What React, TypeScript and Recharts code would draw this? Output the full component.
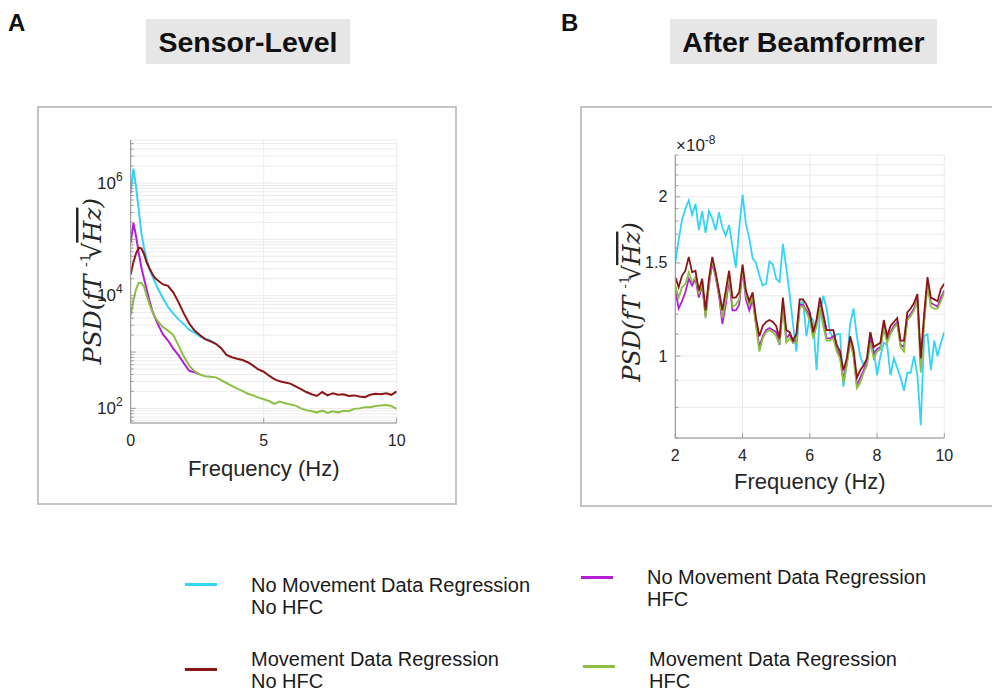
import React from 'react';
import { LineChart, Line, XAxis, YAxis, CartesianGrid } from 'recharts';

// ---------- Panel A (sensor level) ----------
const freqA = [0, 0.1, 0.2, 0.3, 0.4, 0.5, 0.6, 0.7, 0.8, 0.9, 1.0, 1.2, 1.4, 1.6, 1.8, 2.0, 2.2, 2.4, 2.6, 2.8, 3.0, 3.2, 3.4, 3.6, 3.8, 4.0, 4.2, 4.4, 4.6, 4.8, 5.0, 5.2, 5.4, 5.6, 5.8, 6.0, 6.2, 6.4, 6.6, 6.8, 7.0, 7.2, 7.4, 7.6, 7.8, 8.0, 8.2, 8.4, 8.6, 8.8, 9.0, 9.2, 9.4, 9.6, 9.8, 10.0];
const noRegNoHfcA: (number | null)[] = [6.6e5, 1.8e6, 8.7e5, 3.4e5, 1.3e5, 7.1e4, 4.5e4, 3.0e4, 2.3e4, 1.8e4, 1.4e4, 9.3e3, 6.3e3, 4.8e3, 3.8e3, 3.1e3, 2.5e3, 2.2e3, 1.9e3, 1.7e3, 1.6e3, 1.4e3];
const noRegHfcA: (number | null)[] = [8.7e4, 1.95e5, 1.15e5, 5.8e4, 3.2e4, 2.0e4, 1.3e4, 8.3e3, 5.6e3, 4.2e3, 3.3e3, 2.1e3, 1.6e3, 1.15e3, 870, 630, 465, 438, 400];
const regNoHfcA = [2.4e4, 3.9e4, 5.6e4, 7.1e4, 6.9e4, 5.5e4, 3.9e4, 3.1e4, 2.5e4, 2.1e4, 1.9e4, 1.6e4, 1.5e4, 1.15e4, 7.6e3, 4.8e3, 3.2e3, 2.4e3, 2.0e3, 1.7e3, 1.55e3, 1.4e3, 1.17e3, 890, 810, 760, 720, 660, 575, 490, 447, 380, 331, 302, 288, 275, 245, 219, 195, 178, 166, 195, 170, 186, 174, 178, 166, 170, 162, 158, 174, 182, 178, 186, 174, 200];
const regHfcA = [4.5e3, 8.1e3, 1.3e4, 1.7e4, 1.7e4, 1.45e4, 1.0e4, 7.2e3, 5.4e3, 4.3e3, 3.6e3, 2.8e3, 2.4e3, 2.0e3, 1.3e3, 830, 575, 457, 398, 372, 363, 355, 316, 282, 251, 224, 204, 182, 170, 155, 145, 135, 120, 132, 123, 117, 112, 100, 93, 89, 85, 91, 83, 89, 85, 91, 89, 98, 100, 105, 105, 110, 112, 115, 110, 98];
const yTicksA = [60, 70, 80, 90, 100, 200, 300, 400, 500, 600, 700, 800, 900, 1e3, 2e3, 3e3, 4e3, 5e3, 6e3, 7e3, 8e3, 9e3, 1e4, 2e4, 3e4, 4e4, 5e4, 6e4, 7e4, 8e4, 9e4, 1e5, 2e5, 3e5, 4e5, 5e5, 6e5, 7e5, 8e5, 9e5, 1e6, 2e6, 3e6, 4e6, 5e6];
const yLabelsA = [1e2, 1e4, 1e6];
const xTicksA = [0, 5, 10];

// ---------- Panel B (after beamformer), values in units of 1e-8 ----------
const freqB = [2.0, 2.1, 2.2, 2.3, 2.4, 2.5, 2.6, 2.7, 2.8, 2.9, 3.0, 3.1, 3.2, 3.3, 3.4, 3.5, 3.6, 3.7, 3.8, 3.9, 4.0, 4.1, 4.2, 4.3, 4.4, 4.5, 4.6, 4.7, 4.8, 4.9, 5.0, 5.1, 5.2, 5.3, 5.4, 5.5, 5.6, 5.7, 5.8, 5.9, 6.0, 6.1, 6.2, 6.3, 6.4, 6.5, 6.6, 6.7, 6.8, 6.9, 7.0, 7.1, 7.2, 7.3, 7.4, 7.5, 7.6, 7.7, 7.8, 7.9, 8.0, 8.1, 8.2, 8.3, 8.4, 8.5, 8.6, 8.7, 8.8, 8.9, 9.0, 9.1, 9.2, 9.3, 9.4, 9.5, 9.6, 9.7, 9.8, 9.9, 10.0];
const noRegNoHfcB = [1.50, 1.66, 1.81, 1.90, 1.97, 1.85, 1.94, 1.73, 1.88, 1.71, 1.88, 1.82, 1.73, 1.87, 1.75, 1.69, 1.77, 1.61, 1.47, 1.74, 2.02, 1.78, 1.67, 1.53, 1.50, 1.42, 1.36, 1.37, 1.51, 1.49, 1.40, 1.38, 1.63, 1.47, 1.31, 1.15, 1.02, 1.25, 1.27, 1.09, 1.19, 1.17, 0.94, 1.20, 1.30, 1.23, 1.11, 1.08, 1.10, 1.10, 0.875, 0.97, 1.15, 1.23, 1.09, 1.00, 0.96, 0.98, 1.11, 1.03, 0.92, 1.00, 1.06, 1.05, 0.92, 0.99, 0.95, 0.91, 0.86, 0.93, 0.93, 1.00, 0.92, 0.74, 1.09, 1.10, 0.94, 1.07, 1.00, 1.06, 1.11];
const noRegHfcB = [1.33, 1.23, 1.27, 1.32, 1.40, 1.36, 1.40, 1.29, 1.36, 1.19, 1.36, 1.50, 1.41, 1.30, 1.15, 1.25, 1.40, 1.22, 1.22, 1.25, 1.46, 1.28, 1.22, 1.28, 1.15, 1.04, 1.09, 1.12, 1.13, 1.12, 1.11, 1.05, 1.26, 1.08, 1.10, 1.06, 1.07, 1.25, 1.25, 1.22, 1.19, 1.09, 1.15, 1.25, 1.16, 1.08, 1.08, 1.09, 1.03, 1.00, 0.90, 0.97, 1.07, 1.01, 0.88, 0.91, 0.94, 0.97, 1.08, 1.01, 1.03, 1.04, 1.14, 1.07, 1.11, 1.14, 1.16, 1.05, 1.04, 1.18, 1.20, 1.23, 1.28, 0.96, 1.17, 1.38, 1.26, 1.25, 1.24, 1.29, 1.33];
const regNoHfcB = [1.41, 1.35, 1.42, 1.45, 1.54, 1.44, 1.45, 1.33, 1.40, 1.22, 1.40, 1.54, 1.44, 1.33, 1.22, 1.33, 1.45, 1.29, 1.29, 1.32, 1.49, 1.33, 1.27, 1.32, 1.18, 1.09, 1.14, 1.16, 1.17, 1.16, 1.14, 1.08, 1.29, 1.12, 1.11, 1.07, 1.10, 1.28, 1.28, 1.25, 1.21, 1.11, 1.17, 1.29, 1.20, 1.12, 1.12, 1.12, 1.05, 1.02, 0.94, 0.99, 1.09, 1.03, 0.91, 0.94, 0.96, 0.99, 1.11, 1.04, 1.05, 1.06, 1.17, 1.09, 1.14, 1.16, 1.18, 1.07, 1.07, 1.21, 1.23, 1.26, 1.31, 0.99, 1.20, 1.41, 1.29, 1.28, 1.27, 1.34, 1.37];
const regHfcB = [1.36, 1.29, 1.35, 1.37, 1.44, 1.38, 1.41, 1.31, 1.38, 1.18, 1.37, 1.52, 1.42, 1.31, 1.18, 1.28, 1.42, 1.24, 1.25, 1.28, 1.47, 1.30, 1.25, 1.29, 1.14, 1.02, 1.08, 1.11, 1.12, 1.11, 1.09, 1.05, 1.24, 1.06, 1.08, 1.06, 1.06, 1.24, 1.24, 1.21, 1.17, 1.08, 1.14, 1.24, 1.14, 1.07, 1.07, 1.08, 1.02, 0.99, 0.89, 0.96, 1.06, 1.00, 0.87, 0.89, 0.93, 0.96, 1.06, 0.99, 1.02, 1.03, 1.13, 1.06, 1.10, 1.13, 1.15, 1.04, 1.02, 1.17, 1.19, 1.22, 1.27, 0.93, 1.15, 1.36, 1.24, 1.23, 1.23, 1.27, 1.32];
const yTicksB = [0.7, 0.8, 0.9, 1.0, 1.1, 1.2, 1.3, 1.4, 1.5, 1.6, 1.7, 1.8, 1.9, 2.0, 2.1, 2.2, 2.3, 2.4];
const yLabelsB = [1, 1.5, 2];
const xTicksB = [2, 4, 6, 8, 10];

const seriesNames = [
  ['No Movement Data Regression', 'No HFC'],
  ['No Movement Data Regression', 'HFC'],
  ['Movement Data Regression', 'No HFC'],
  ['Movement Data Regression', 'HFC'],
];
const COLORS = ['#35d3f5', '#b41fd4', '#8c1515', '#8cbf44'];

const dataA = freqA.map((f, i) => ({
  f,
  c: noRegNoHfcA[i] ?? null,
  p: noRegHfcA[i] ?? null,
  r: regNoHfcA[i],
  g: regHfcA[i],
}));
const dataB = freqB.map((f, i) => ({
  f,
  c: noRegNoHfcB[i],
  p: noRegHfcB[i],
  r: regNoHfcB[i],
  g: regHfcB[i],
}));

const SANS = '"Liberation Sans", Arial, Helvetica, sans-serif';
const SERIF = '"DejaVu Serif", "Liberation Serif", serif';
const TXT = '#262626';
const AXIS = '#8e8e8e';
const GRID = '#e6e6e6';

// plot rectangles within each chart svg
const A_W = 420, A_H = 470, A_L = 130.7, A_R = 396.7, A_T = 140, A_B = 423;
const B_X = 560, B_W = 432, B_H = 520, B_L = 115.3, B_R = 384.3, B_T = 155, B_B = 438;
const YW = 50, XH = 30;

function renderYTick(left: number, labels: number[], isMajor: (v: number) => boolean, fmt: (v: number) => React.ReactNode, fs: number) {
  return (props: any) => {
    const { y, payload, index } = props;
    const v = payload.value as number;
    const show = labels.some((l) => Math.abs(l - v) < 1e-9 * Math.max(1, l));
    return (
      <g key={`yt-${index}`}>
        <line x1={left} x2={left + (isMajor(v) ? 5 : 3)} y1={y} y2={y} stroke={AXIS} strokeWidth={0.8} />
        {show && (
          <text x={left - 8} y={y + 5.5} textAnchor="end" fontSize={fs} fontFamily={SANS} fill={TXT}>
            {fmt(v)}
          </text>
        )}
      </g>
    );
  };
}

const yTickA = renderYTick(
  A_L,
  yLabelsA,
  (v) => Math.abs(Math.log10(v) - Math.round(Math.log10(v))) < 1e-6,
  (v) => (
    <>
      10<tspan dy={-8} fontSize={12}>{Math.round(Math.log10(v))}</tspan>
    </>
  ),
  17
);
const yTickB = renderYTick(B_L, yLabelsB, (v) => yLabelsB.some((l) => Math.abs(l - v) < 1e-9), (v) => String(v), 16);

function renderXTick(bottom: number) {
  return (props: any) => {
    const { x, payload, index } = props;
    return (
      <g key={`xt-${index}`}>
        <line x1={x} x2={x} y1={bottom} y2={bottom - 5} stroke={AXIS} strokeWidth={0.8} />
        <text x={x} y={bottom + 23} textAnchor="middle" fontSize={16} fontFamily={SANS} fill={TXT}>
          {payload.value}
        </text>
      </g>
    );
  };
}
const xTickA = renderXTick(A_B);
const xTickB = renderXTick(B_B);

function PsdLabel({ x, y, fs }: { x: number; y: number; fs: number }) {
  return (
    <text transform={`translate(${x},${y}) rotate(-90)`} textAnchor="middle" fontFamily={SERIF} fontStyle="italic" fontSize={fs} fill={TXT}>
      PSD(fT<tspan dx={fs * 0.3} dy={-fs * 0.45} fontSize={fs * 0.55} fontStyle="normal">-1</tspan>
      <tspan dx={-fs * 0.2} dy={fs * 0.45} fontStyle="normal">√</tspan>
      <tspan style={{ textDecoration: 'overline' }}>Hz</tspan>)
    </text>
  );
}

function LegendItem({ x, y, lineY, color, lines }: { x: number; y: number; lineY: number; color: string; lines: string[] }) {
  return (
    <>
      <div style={{ position: 'absolute', left: x - 66, top: lineY - 1.5, width: 32, height: 3, background: color }} />
      <div style={{ position: 'absolute', left: x, top: y, fontSize: 20, lineHeight: '22px', fontFamily: SANS, color: '#1a1a1a', whiteSpace: 'nowrap' }}>
        {lines.map((l, i) => (
          <div key={i}>{l}</div>
        ))}
      </div>
    </>
  );
}

export default function App() {
  return (
    <div style={{ position: 'absolute', left: 0, top: 0, width: 992, height: 692, background: '#ffffff', overflow: 'hidden', fontFamily: SANS }}>
      {/* panel letters and titles */}
      <div style={{ position: 'absolute', left: 8, top: 11, fontSize: 24, lineHeight: '24px', fontWeight: 'bold', color: '#111' }}>A</div>
      <div style={{ position: 'absolute', left: 561, top: 11, fontSize: 24, lineHeight: '24px', fontWeight: 'bold', color: '#111' }}>B</div>
      <div style={{ position: 'absolute', left: 146, top: 19, width: 204, height: 45, background: '#e6e6e6', fontSize: 28.5, fontWeight: 'bold', lineHeight: '45px', paddingTop: 1, boxSizing: 'border-box', textAlign: 'center', color: '#111', whiteSpace: 'nowrap' }}>
        Sensor-Level
      </div>
      <div style={{ position: 'absolute', left: 670, top: 19, width: 267, height: 45, background: '#e6e6e6', fontSize: 28.5, fontWeight: 'bold', lineHeight: '45px', paddingTop: 1, boxSizing: 'border-box', textAlign: 'center', color: '#111', whiteSpace: 'nowrap' }}>
        After Beamformer
      </div>

      {/* panel frames */}
      <div style={{ position: 'absolute', left: 37, top: 106, width: 420, height: 399, border: '2px solid #c4c4c4', boxSizing: 'border-box' }} />
      <div style={{ position: 'absolute', left: 580, top: 106, width: 440, height: 401, border: '2px solid #c4c4c4', boxSizing: 'border-box' }} />

      {/* chart A */}
      <div style={{ position: 'absolute', left: 0, top: 0 }}>
        <LineChart width={A_W} height={A_H} data={dataA} margin={{ top: A_T, left: A_L - YW, right: A_W - A_R, bottom: A_H - A_B - XH }}>
          <CartesianGrid stroke={GRID} strokeWidth={0.8} />
          <XAxis dataKey="f" type="number" domain={[0, 10]} ticks={xTicksA} tick={xTickA} tickLine={false} height={XH} stroke={AXIS} allowDataOverflow interval={0} />
          <YAxis type="number" scale="log" domain={[55, 5.8e6]} ticks={yTicksA} tick={yTickA} tickLine={false} width={YW} stroke={AXIS} allowDataOverflow interval={0} />
          <Line type="linear" dataKey="c" stroke={COLORS[0]} strokeWidth={2} dot={false} isAnimationActive={false} connectNulls={false} />
          <Line type="linear" dataKey="p" stroke={COLORS[1]} strokeWidth={2} dot={false} isAnimationActive={false} connectNulls={false} />
          <Line type="linear" dataKey="r" stroke={COLORS[2]} strokeWidth={2} dot={false} isAnimationActive={false} />
          <Line type="linear" dataKey="g" stroke={COLORS[3]} strokeWidth={2} dot={false} isAnimationActive={false} />
        </LineChart>
      </div>

      {/* chart B */}
      <div style={{ position: 'absolute', left: B_X, top: 0 }}>
        <LineChart width={B_W} height={B_H} data={dataB} margin={{ top: B_T, left: B_L - YW, right: B_W - B_R, bottom: B_H - B_B - XH }}>
          <CartesianGrid stroke={GRID} strokeWidth={0.8} />
          <XAxis dataKey="f" type="number" domain={[2, 10]} ticks={xTicksB} tick={xTickB} tickLine={false} height={XH} stroke={AXIS} allowDataOverflow interval={0} />
          <YAxis type="number" scale="log" domain={[0.7, 2.4]} ticks={yTicksB} tick={yTickB} tickLine={false} width={YW} stroke={AXIS} allowDataOverflow interval={0} />
          <Line type="linear" dataKey="c" stroke={COLORS[0]} strokeWidth={1.8} dot={false} isAnimationActive={false} />
          <Line type="linear" dataKey="p" stroke={COLORS[1]} strokeWidth={1.8} dot={false} isAnimationActive={false} />
          <Line type="linear" dataKey="g" stroke={COLORS[3]} strokeWidth={1.8} dot={false} isAnimationActive={false} />
          <Line type="linear" dataKey="r" stroke={COLORS[2]} strokeWidth={1.8} dot={false} isAnimationActive={false} />
        </LineChart>
      </div>

      {/* axis titles */}
      <svg width={992} height={692} style={{ position: 'absolute', left: 0, top: 0, pointerEvents: 'none' }}>
        <text x={(A_L + A_R) / 2} y={476} textAnchor="middle" fontSize={22} fontFamily={SANS} fill={TXT}>Frequency (Hz)</text>
        <text x={B_X + (B_L + B_R) / 2} y={489} textAnchor="middle" fontSize={22} fontFamily={SANS} fill={TXT}>Frequency (Hz)</text>
        <PsdLabel x={101} y={281} fs={25} />
        <PsdLabel x={640} y={302} fs={24} />
        <text x={676} y={151} fontSize={17} fontFamily={SANS} fill={TXT}>
          ×10<tspan dy={-7} fontSize={12}>-8</tspan>
        </text>
      </svg>

      {/* legend */}
      <LegendItem x={251} y={574} lineY={584} color={COLORS[0]} lines={seriesNames[0]} />
      <LegendItem x={647} y={566} lineY={577} color={COLORS[1]} lines={seriesNames[1]} />
      <LegendItem x={251} y={648} lineY={669} color={COLORS[2]} lines={seriesNames[2]} />
      <LegendItem x={649} y={648} lineY={666} color={COLORS[3]} lines={seriesNames[3]} />
    </div>
  );
}
